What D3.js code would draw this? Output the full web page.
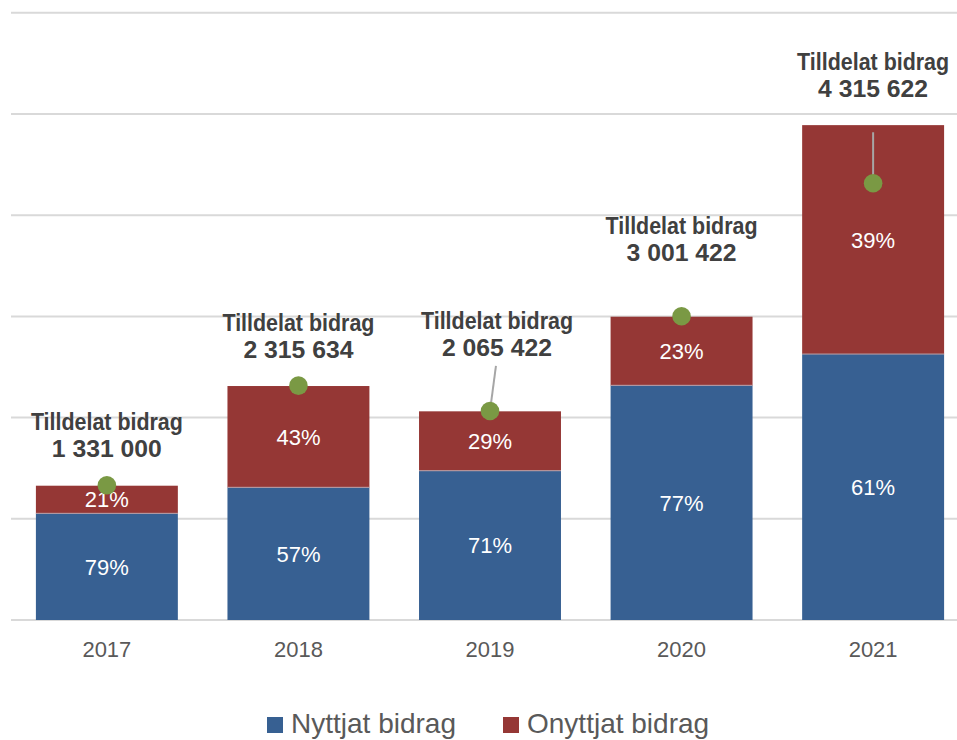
<!DOCTYPE html>
<html>
<head>
<meta charset="utf-8">
<script src="https://d3js.org/d3.v7.min.js"></script>
<style>
  body { margin: 0; background: #fff; }
  svg { display: block; }
  .pct { font: 22px "Liberation Sans", Arial, sans-serif; fill: #fff; }
  .year { font: 22px "Liberation Sans", Arial, sans-serif; fill: #595959; }
  .tot { font: bold 24px "Liberation Sans", Arial, sans-serif; fill: #404040; }
  .leg { font: 28px "Liberation Sans", Arial, sans-serif; fill: #595959; }
</style>
</head>
<body>
<script>
// data
var years = ["2017", "2018", "2019", "2020", "2021"];
var nyttjat = [1054000, 1311000, 1475000, 2319000, 2628000];
var onyttjat = [273000, 1001000, 587000, 678000, 2262000];
var tilldelat = [1331000, 2315634, 2065422, 3001422, 4315622];
var nyttjatPct = ["79%", "57%", "71%", "77%", "61%"];
var onyttjatPct = ["21%", "43%", "29%", "23%", "39%"];
var yTicks = [0, 1000000, 2000000, 3000000, 4000000, 5000000, 6000000];

// label placement relative to the green dot (pixels)
var labelNudge = [
  { dx: 0, dy: -28, lead: null },
  { dx: 0, dy: -28, lead: null },
  { dx: 7, dy: -55, lead: -45 },
  { dx: 0, dy: -55, lead: null },
  { dx: 0, dy: -86, lead: -51 }
];

var width = 957, height = 740;
var blue = "#376092", red = "#953735", green = "#7a9944";

var svg = d3.select("body").append("svg")
  .attr("width", width)
  .attr("height", height);

var x = d3.scaleBand()
  .domain(years)
  .range([11, 969])
  .paddingInner(0.259)
  .paddingOuter(0.13);

var y = d3.scaleLinear()
  .domain([0, 6000000])
  .range([620, 12.8]);

// gridlines
svg.append("g")
  .selectAll("line")
  .data(yTicks)
  .enter()
  .append("line")
  .attr("x1", 11)
  .attr("x2", width)
  .attr("y1", function(d) { return y(d); })
  .attr("y2", function(d) { return y(d); })
  .style("stroke", "#d9d9d9")
  .style("stroke-width", 2);

var rows = years.map(function(yr, i) {
  return { year: yr, n: nyttjat[i], o: onyttjat[i], t: tilldelat[i],
           np: nyttjatPct[i], op: onyttjatPct[i], nudge: labelNudge[i] };
});

var bars = svg.append("g")
  .selectAll("g")
  .data(rows)
  .enter()
  .append("g");

bars.append("rect")
  .attr("x", function(d) { return x(d.year); })
  .attr("width", x.bandwidth())
  .attr("y", function(d) { return y(d.n); })
  .attr("height", function(d) { return y(0) - y(d.n); })
  .style("fill", blue);

bars.append("rect")
  .attr("x", function(d) { return x(d.year); })
  .attr("width", x.bandwidth())
  .attr("y", function(d) { return y(d.n + d.o); })
  .attr("height", function(d) { return y(d.n) - y(d.n + d.o); })
  .style("fill", red);

// thin light line between segments
bars.append("line")
  .attr("x1", function(d) { return x(d.year); })
  .attr("x2", function(d) { return x(d.year) + x.bandwidth(); })
  .attr("y1", function(d) { return y(d.n); })
  .attr("y2", function(d) { return y(d.n); })
  .style("stroke", "#b9a0a8")
  .style("stroke-width", 1);

bars.append("text")
  .attr("class", "pct")
  .attr("text-anchor", "middle")
  .attr("x", function(d) { return x(d.year) + x.bandwidth() / 2; })
  .attr("y", function(d) { return (y(0) + y(d.n)) / 2; })
  .attr("dy", "0.36em")
  .text(function(d) { return d.np; });

bars.append("text")
  .attr("class", "pct")
  .attr("text-anchor", "middle")
  .attr("x", function(d) { return x(d.year) + x.bandwidth() / 2; })
  .attr("y", function(d) { return (y(d.n) + y(d.n + d.o)) / 2; })
  .attr("dy", "0.36em")
  .text(function(d) { return d.op; });

// leader lines
bars.filter(function(d) { return d.nudge.lead !== null; })
  .append("line")
  .attr("x1", function(d) { return x(d.year) + x.bandwidth() / 2 + d.nudge.dx * 0.85; })
  .attr("y1", function(d) { return y(d.t) + d.nudge.lead; })
  .attr("x2", function(d) { return x(d.year) + x.bandwidth() / 2; })
  .attr("y2", function(d) { return y(d.t); })
  .style("stroke", "#a6a6a6")
  .style("stroke-width", 2);

// tilldelat dots
bars.append("circle")
  .attr("cx", function(d) { return x(d.year) + x.bandwidth() / 2; })
  .attr("cy", function(d) { return y(d.t); })
  .attr("r", 9.3)
  .style("fill", green);

var fmt = d3.formatLocale({ decimal: ",", thousands: " ", grouping: [3], currency: ["", " kr"] }).format(",d");

// condensed bold labels, squeezed to the reference width
var lbl = bars.append("g");

lbl.append("text")
  .attr("class", "tot")
  .attr("text-anchor", "middle")
  .attr("textLength", 152)
  .attr("lengthAdjust", "spacingAndGlyphs")
  .attr("x", function(d) { return x(d.year) + x.bandwidth() / 2 + d.nudge.dx; })
  .attr("y", function(d) { return y(d.t) + d.nudge.dy - 27; })
  .text("Tilldelat bidrag");

lbl.append("text")
  .attr("class", "tot")
  .attr("text-anchor", "middle")
  .attr("textLength", 110)
  .attr("lengthAdjust", "spacingAndGlyphs")
  .attr("x", function(d) { return x(d.year) + x.bandwidth() / 2 + d.nudge.dx; })
  .attr("y", function(d) { return y(d.t) + d.nudge.dy; })
  .text(function(d) { return fmt(d.t); });

// x axis labels
svg.append("g")
  .selectAll("text")
  .data(years)
  .enter()
  .append("text")
  .attr("class", "year")
  .attr("text-anchor", "middle")
  .attr("x", function(d) { return x(d) + x.bandwidth() / 2; })
  .attr("y", 657)
  .text(function(d) { return d; });

// legend
var legendItems = [
  { name: "Nyttjat bidrag", color: blue, x: 267 },
  { name: "Onyttjat bidrag", color: red, x: 503 }
];

var legend = svg.append("g")
  .selectAll("g")
  .data(legendItems)
  .enter()
  .append("g")
  .attr("transform", function(d) { return "translate(" + d.x + ",717)"; });

legend.append("rect")
  .attr("width", 16)
  .attr("height", 16)
  .style("fill", function(d) { return d.color; });

legend.append("text")
  .attr("class", "leg")
  .attr("x", 24)
  .attr("y", 16)
  .text(function(d) { return d.name; });
</script>
</body>
</html>
